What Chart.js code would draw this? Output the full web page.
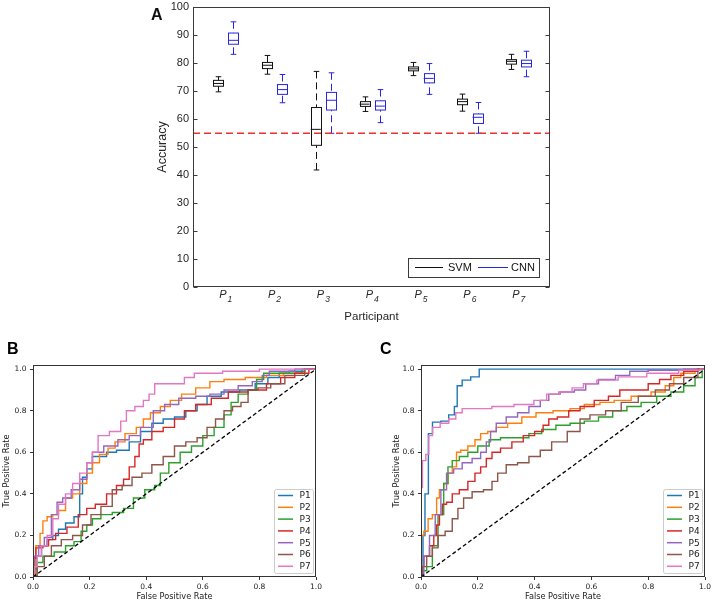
<!DOCTYPE html>
<html>
<head>
<meta charset="utf-8">
<script src="https://cdn.jsdelivr.net/npm/chart.js@4/dist/chart.umd.min.js"></script>
<style>
  body { margin: 0; background: #fff; width: 714px; height: 603px; position: relative; overflow: hidden; }
  canvas { position: absolute; }
</style>
</head>
<body>
<canvas id="cA" width="430" height="330" style="left:140px;top:0px"></canvas>
<canvas id="cB" width="357" height="273" style="left:0px;top:330px"></canvas>
<canvas id="cC" width="357" height="273" style="left:357px;top:330px"></canvas>
<script>
// ---- panel A: accuracy box plots ----
const participants = ["P1", "P2", "P3", "P4", "P5", "P6", "P7"];
const svmMin = [69.7, 76.0, 41.8, 62.7, 75.5, 62.8, 77.7];
const svmQ1 = [71.7, 78.0, 50.6, 64.5, 77.2, 65.1, 79.6];
const svmMed = [72.7, 79.2, 56.3, 65.3, 77.9, 66.2, 80.6];
const svmQ3 = [73.8, 80.2, 64.1, 66.2, 78.6, 67.1, 81.2];
const svmMax = [75.1, 82.7, 77.0, 67.9, 80.2, 68.9, 83.1];
const cnnMin = [83.1, 65.8, 54.9, 58.7, 68.8, 54.9, 75.1];
const cnnQ1 = [86.7, 68.8, 63.2, 63.2, 72.9, 58.4, 78.6];
const cnnMed = [88.1, 70.5, 66.7, 64.6, 74.5, 60.6, 79.8];
const cnnQ3 = [90.7, 72.3, 69.5, 66.5, 76.2, 61.8, 81.0];
const cnnMax = [94.7, 75.9, 76.5, 70.5, 79.8, 65.9, 84.2];
const chanceLevel = 54.9;
const accTicks = [0, 10, 20, 30, 40, 50, 60, 70, 80, 90, 100];

// ---- panels B and C: ROC curves [fpr, tpr] ----
const bP1 = [[0,0],[0.02,0.1],[0.04,0.15],[0.06,0.18],[0.08,0.2],[0.1,0.23],[0.13,0.26],[0.16,0.29],[0.17,0.4],[0.18,0.48],[0.2,0.52],[0.22,0.58],[0.25,0.58],[0.27,0.6],[0.32,0.61],[0.36,0.65],[0.4,0.7],[0.44,0.74],[0.48,0.76],[0.52,0.77],[0.56,0.8],[0.6,0.83],[0.63,0.87],[0.7,0.89],[0.76,0.9],[0.81,0.93],[0.85,0.96],[0.89,0.98],[0.92,0.99],[1,1]];
const bP2 = [[0,0],[0.02,0.15],[0.03,0.21],[0.04,0.27],[0.06,0.29],[0.08,0.3],[0.1,0.32],[0.13,0.38],[0.15,0.4],[0.18,0.45],[0.2,0.5],[0.22,0.55],[0.25,0.59],[0.28,0.62],[0.3,0.65],[0.35,0.69],[0.38,0.72],[0.4,0.76],[0.43,0.79],[0.47,0.82],[0.5,0.85],[0.55,0.88],[0.6,0.91],[0.65,0.94],[0.7,0.95],[0.8,0.96],[0.85,0.97],[0.92,0.98],[1,1]];
const bP3 = [[0,0],[0.01,0.04],[0.02,0.07],[0.05,0.1],[0.1,0.12],[0.13,0.15],[0.16,0.17],[0.18,0.22],[0.2,0.25],[0.22,0.28],[0.26,0.3],[0.3,0.31],[0.34,0.33],[0.37,0.38],[0.42,0.42],[0.44,0.44],[0.46,0.5],[0.5,0.55],[0.54,0.6],[0.58,0.63],[0.62,0.68],[0.66,0.72],[0.69,0.78],[0.71,0.84],[0.74,0.88],[0.78,0.9],[0.8,0.95],[0.83,0.98],[0.9,0.98],[1,1]];
const bP4 = [[0,0],[0,0.09],[0.02,0.14],[0.05,0.15],[0.06,0.18],[0.1,0.21],[0.14,0.24],[0.18,0.3],[0.2,0.33],[0.24,0.35],[0.28,0.4],[0.31,0.44],[0.33,0.47],[0.35,0.53],[0.37,0.58],[0.38,0.64],[0.4,0.66],[0.44,0.7],[0.48,0.72],[0.52,0.76],[0.55,0.8],[0.6,0.83],[0.66,0.86],[0.72,0.89],[0.8,0.9],[0.85,0.93],[0.9,0.96],[0.95,0.98],[1,1]];
const bP5 = [[0,0],[0.01,0.1],[0.03,0.15],[0.05,0.19],[0.08,0.3],[0.09,0.36],[0.12,0.38],[0.15,0.42],[0.18,0.47],[0.2,0.55],[0.22,0.6],[0.28,0.63],[0.32,0.66],[0.36,0.68],[0.4,0.72],[0.45,0.8],[0.48,0.83],[0.55,0.86],[0.6,0.87],[0.65,0.88],[0.7,0.9],[0.75,0.92],[0.8,0.94],[0.82,0.97],[0.85,0.99],[1,1]];
const bP6 = [[0,0],[0.03,0.05],[0.05,0.1],[0.08,0.15],[0.12,0.18],[0.16,0.2],[0.19,0.25],[0.22,0.3],[0.26,0.34],[0.3,0.42],[0.33,0.44],[0.37,0.48],[0.4,0.5],[0.44,0.54],[0.48,0.58],[0.52,0.63],[0.56,0.65],[0.6,0.67],[0.63,0.72],[0.66,0.76],[0.69,0.8],[0.72,0.82],[0.75,0.84],[0.77,0.9],[0.82,0.91],[0.86,0.93],[0.92,0.97],[1,1]];
const bP7 = [[0,0],[0.01,0.05],[0.02,0.1],[0.04,0.15],[0.06,0.2],[0.08,0.28],[0.1,0.35],[0.13,0.4],[0.15,0.45],[0.18,0.5],[0.2,0.55],[0.22,0.6],[0.24,0.68],[0.3,0.7],[0.32,0.75],[0.34,0.8],[0.38,0.82],[0.4,0.85],[0.42,0.88],[0.44,0.93],[0.52,0.93],[0.55,0.96],[0.59,0.98],[0.75,0.99],[0.85,1],[1,1]];

const cP1 = [[0,0],[0.014,0.2],[0.014,0.4],[0.026,0.4],[0.026,0.69],[0.055,0.745],[0.085,0.75],[0.11,0.78],[0.125,0.82],[0.13,0.92],[0.16,0.947],[0.19,0.963],[0.22,1],[1,1]];
const cP2 = [[0,0],[0,0.2],[0.02,0.22],[0.03,0.28],[0.05,0.3],[0.06,0.38],[0.07,0.42],[0.09,0.45],[0.1,0.5],[0.12,0.53],[0.13,0.6],[0.15,0.61],[0.18,0.63],[0.2,0.66],[0.22,0.69],[0.25,0.7],[0.28,0.72],[0.33,0.74],[0.38,0.77],[0.43,0.79],[0.5,0.8],[0.55,0.81],[0.6,0.83],[0.66,0.84],[0.7,0.85],[0.78,0.87],[0.84,0.89],[0.88,0.92],[0.9,0.96],[0.93,0.98],[1,1]];
const cP3 = [[0,0],[0.01,0.03],[0.03,0.05],[0.05,0.15],[0.07,0.3],[0.09,0.45],[0.1,0.53],[0.12,0.56],[0.15,0.58],[0.18,0.6],[0.22,0.63],[0.26,0.66],[0.3,0.67],[0.36,0.67],[0.4,0.69],[0.45,0.71],[0.5,0.73],[0.55,0.74],[0.6,0.75],[0.65,0.77],[0.7,0.8],[0.75,0.82],[0.8,0.84],[0.86,0.87],[0.9,0.89],[0.95,0.92],[0.98,0.96],[1,1]];
const cP4 = [[0,0],[0,0.05],[0.02,0.1],[0.04,0.15],[0.05,0.2],[0.06,0.25],[0.07,0.3],[0.08,0.35],[0.1,0.36],[0.12,0.4],[0.15,0.42],[0.18,0.46],[0.2,0.5],[0.22,0.53],[0.24,0.57],[0.26,0.6],[0.3,0.62],[0.34,0.65],[0.38,0.68],[0.42,0.7],[0.44,0.73],[0.46,0.76],[0.5,0.77],[0.54,0.8],[0.58,0.82],[0.64,0.85],[0.68,0.87],[0.72,0.9],[0.78,0.9],[0.82,0.93],[0.86,0.95],[0.9,0.97],[0.95,0.99],[1,1]];
const cP5 = [[0,0],[0.02,0.1],[0.04,0.2],[0.06,0.3],[0.08,0.42],[0.1,0.5],[0.13,0.52],[0.16,0.55],[0.2,0.57],[0.22,0.6],[0.24,0.65],[0.25,0.7],[0.28,0.74],[0.32,0.77],[0.36,0.79],[0.4,0.82],[0.44,0.85],[0.46,0.88],[0.52,0.89],[0.56,0.9],[0.6,0.93],[0.65,0.95],[0.72,0.97],[0.75,0.99],[0.85,0.995],[1,1]];
const cP6 = [[0,0],[0.01,0.05],[0.03,0.1],[0.05,0.14],[0.07,0.2],[0.1,0.22],[0.12,0.28],[0.14,0.33],[0.16,0.38],[0.2,0.41],[0.24,0.42],[0.26,0.46],[0.28,0.5],[0.32,0.54],[0.36,0.55],[0.4,0.58],[0.44,0.61],[0.48,0.65],[0.55,0.7],[0.57,0.76],[0.62,0.78],[0.68,0.8],[0.73,0.84],[0.8,0.87],[0.85,0.9],[0.9,0.93],[0.95,0.96],[1,1]];
const cP7 = [[0,0],[0,0.43],[0.01,0.56],[0.024,0.59],[0.031,0.68],[0.05,0.72],[0.085,0.74],[0.11,0.76],[0.135,0.79],[0.155,0.81],[0.214,0.81],[0.285,0.82],[0.37,0.83],[0.425,0.85],[0.46,0.88],[0.51,0.89],[0.554,0.91],[0.59,0.93],[0.648,0.947],[0.74,0.963],[0.85,0.98],[0.965,0.995],[1,1]];

const rocColors = ["#1f77b4", "#ff7f0e", "#2ca02c", "#d62728", "#9467bd", "#8c564b", "#e377c2"];
const rateTicks = [0, 0.2, 0.4, 0.6, 0.8, 1.0];

const svmColor = "#111111";
const cnnColor = "#2626e0";
const boxOffset = 0.156;

// boxes + whiskers drawn through the chart's scales
const boxPlugin = {
  id: "boxes",
  beforeDatasetsDraw(chart) {
    const { ctx, scales: { x, y } } = chart;
    const groups = [
      { off: -boxOffset, color: svmColor, lo: svmMin, q1: svmQ1, q3: svmQ3, hi: svmMax },
      { off: boxOffset, color: cnnColor, lo: cnnMin, q1: cnnQ1, q3: cnnQ3, hi: cnnMax },
    ];
    ctx.save();
    ctx.lineWidth = 1;
    groups.forEach((g) => {
      g.lo.forEach((_, i) => {
        const cx = Math.round(x.getPixelForValue(i + 1 + g.off)) + 0.5;
        const yLo = y.getPixelForValue(g.lo[i]);
        const yQ1 = y.getPixelForValue(g.q1[i]);
        const yQ3 = y.getPixelForValue(g.q3[i]);
        const yHi = y.getPixelForValue(g.hi[i]);
        ctx.strokeStyle = g.color;
        ctx.setLineDash([]);
        ctx.strokeRect(cx - 5, yQ3, 10, yQ1 - yQ3);
        ctx.beginPath();
        ctx.moveTo(cx - 2.8, yLo); ctx.lineTo(cx + 2.8, yLo);
        ctx.moveTo(cx - 2.8, yHi); ctx.lineTo(cx + 2.8, yHi);
        ctx.stroke();
        ctx.setLineDash([7, 4]);
        ctx.beginPath();
        ctx.moveTo(cx, yHi); ctx.lineTo(cx, yQ3);
        ctx.moveTo(cx, yLo); ctx.lineTo(cx, yQ1);
        ctx.stroke();
      });
    });
    ctx.restore();
  },
  afterDraw(chart) {
    const { ctx, chartArea: a, scales: { x, y } } = chart;
    ctx.save();
    // frame and inward ticks
    ctx.strokeStyle = "#3a3a3a";
    ctx.lineWidth = 1;
    const L = Math.round(a.left) + 0.5, R = Math.round(a.right) - 0.5;
    const T = Math.round(a.top) + 0.5, B = Math.round(a.bottom) - 0.5;
    ctx.strokeRect(L, T, R - L, B - T);
    ctx.beginPath();
    accTicks.forEach((v) => {
      const py = Math.round(y.getPixelForValue(v)) + 0.5;
      ctx.moveTo(L, py); ctx.lineTo(L + 4, py);
      ctx.moveTo(R, py); ctx.lineTo(R - 4, py);
    });
    ctx.stroke();
    // participant labels with subscripts
    ctx.fillStyle = "#262626";
    ctx.textBaseline = "alphabetic";
    ctx.textAlign = "left";
    participants.forEach((p, i) => {
      const cx = x.getPixelForValue(i + 1);
      ctx.font = "italic 11px 'Liberation Sans', Arial, sans-serif";
      const wP = ctx.measureText(p[0]).width;
      ctx.font = "italic 8.5px 'Liberation Sans', Arial, sans-serif";
      const wS = ctx.measureText(p.slice(1)).width;
      const sx = cx - (wP + wS + 1) / 2;
      ctx.font = "italic 11px 'Liberation Sans', Arial, sans-serif";
      ctx.fillText(p[0], sx, 297.5);
      ctx.font = "italic 8.5px 'Liberation Sans', Arial, sans-serif";
      ctx.fillText(p.slice(1), sx + wP + 1, 301.5);
    });
    // legend
    ctx.fillStyle = "#fff";
    ctx.fillRect(268, 258, 131, 19);
    ctx.strokeStyle = "#3a3a3a";
    ctx.strokeRect(268.5, 258.5, 131, 19);
    ctx.lineWidth = 1;
    ctx.strokeStyle = svmColor;
    ctx.beginPath(); ctx.moveTo(275, 267.5); ctx.lineTo(303, 267.5); ctx.stroke();
    ctx.strokeStyle = cnnColor;
    ctx.beginPath(); ctx.moveTo(338, 267.5); ctx.lineTo(368, 267.5); ctx.stroke();
    ctx.fillStyle = "#111";
    ctx.font = "11px 'Liberation Sans', Arial, sans-serif";
    ctx.textBaseline = "middle";
    ctx.fillText("SVM", 308, 268);
    ctx.fillText("CNN", 371, 268);
    // panel letter
    ctx.font = "bold 16px 'Liberation Sans', Arial, sans-serif";
    ctx.textBaseline = "alphabetic";
    ctx.fillText("A", 11, 20);
    ctx.restore();
  },
};

new Chart(document.getElementById("cA"), {
  type: "scatter",
  data: {
    datasets: [
      {
        label: "SVM",
        data: svmMed.map((v, i) => ({ x: i + 1 - boxOffset, y: v })),
        pointStyle: "line", pointRadius: 5, pointBorderWidth: 1,
        borderColor: svmColor, showLine: false,
      },
      {
        label: "CNN",
        data: cnnMed.map((v, i) => ({ x: i + 1 + boxOffset, y: v })),
        pointStyle: "line", pointRadius: 5, pointBorderWidth: 1,
        borderColor: cnnColor, showLine: false,
      },
      {
        label: "chance",
        data: [{ x: 0.33, y: chanceLevel }, { x: 7.64, y: chanceLevel }],
        showLine: true, pointRadius: 0, borderColor: "#ee2f2f",
        borderWidth: 1.4, borderDash: [7, 4],
      },
    ],
  },
  options: {
    responsive: false,
    animation: false,
    events: [],
    layout: { padding: { left: 0, right: 20, top: 7, bottom: 0 } },
    plugins: { legend: { display: false }, tooltip: { enabled: false } },
    scales: {
      x: {
        type: "linear", min: 0.33, max: 7.64,
        afterBuildTicks: (s) => { s.ticks = participants.map((_, i) => ({ value: i + 1 })); },
        ticks: { display: false },
        grid: { display: false },
        border: { display: false },
        title: {
          display: true, text: "Participant", color: "#262626",
          font: { family: "'Liberation Sans', Arial, sans-serif", size: 11.5 },
          padding: { top: 0, bottom: 6 },
        },
        afterFit: (s) => { s.height = 43; s.paddingLeft = 0; s.paddingRight = 0; },
      },
      y: {
        min: 0, max: 100,
        afterBuildTicks: (s) => { s.ticks = accTicks.map((v) => ({ value: v })); },
        ticks: { color: "#262626", padding: 4, font: { family: "'Liberation Sans', Arial, sans-serif", size: 11 } },
        grid: { display: false, drawTicks: false },
        border: { display: false },
        title: {
          display: true, text: "Accuracy", color: "#262626",
          font: { family: "'Liberation Sans', Arial, sans-serif", size: 12.5 },
          padding: { top: 15, bottom: 0 },
        },
        afterFit: (s) => { s.width = 53; s.paddingTop = 0; s.paddingBottom = 0; },
      },
    },
  },
  plugins: [boxPlugin],
});

// ROC panels
function rocPlugin(letter, letterX) {
  return {
    id: "roc" + letter,
    afterDatasetsDraw(chart) {
      const { ctx, chartArea: a } = chart;
      ctx.save();
      ctx.strokeStyle = "#333";
      ctx.lineWidth = 1;
      const L = Math.round(a.left) + 0.5, R = Math.round(a.right) - 0.5;
      const T = Math.round(a.top) + 0.5, B = Math.round(a.bottom) - 0.5;
      ctx.strokeRect(L, T, R - L, B - T);
      // legend
      const bw = 39, bh = 84;
      const bx = a.right - 3.5 - bw, by = a.bottom - 4 - bh;
      ctx.fillStyle = "rgba(255,255,255,0.85)";
      ctx.strokeStyle = "#cccccc";
      ctx.beginPath();
      ctx.roundRect(Math.round(bx) + 0.5, Math.round(by) + 0.5, bw, bh, 2);
      ctx.fill(); ctx.stroke();
      ctx.font = "9px 'DejaVu Sans', sans-serif";
      ctx.textBaseline = "middle";
      ctx.textAlign = "left";
      participants.forEach((p, i) => {
        const ry = by + 6.5 + i * 11.8;
        ctx.strokeStyle = rocColors[i];
        ctx.lineWidth = 1.5;
        ctx.beginPath(); ctx.moveTo(bx + 4.5, ry); ctx.lineTo(bx + 19.5, ry); ctx.stroke();
        ctx.fillStyle = "#222";
        ctx.fillText(p, bx + 26, ry + 0.5);
      });
      ctx.fillStyle = "#000";
      ctx.font = "bold 16px 'Liberation Sans', Arial, sans-serif";
      ctx.textBaseline = "alphabetic";
      ctx.fillText(letter, letterX, 23.5);
      ctx.restore();
    },
  };
}

function makeRoc(id, curves, yWidth, yTitlePad, rightPad, letter, letterX) {
  const datasets = [
    {
      data: [{ x: 0, y: 0 }, { x: 1, y: 1 }],
      borderColor: "#000", borderWidth: 1.3, borderDash: [4, 2.5],
      pointRadius: 0, showLine: true, order: 0,
    },
  ];
  curves.forEach((c, i) => {
    datasets.push({
      label: participants[i],
      data: c.map((pt) => ({ x: pt[0], y: pt[1] })),
      borderColor: rocColors[i], borderWidth: 1.4,
      pointRadius: 0, showLine: true, stepped: "middle", order: 7 - i,
    });
  });
  const tickFont = { family: "'DejaVu Sans', sans-serif", size: 7.5 };
  const titleFont = { family: "'DejaVu Sans', sans-serif", size: 8.2 };
  new Chart(document.getElementById(id), {
    type: "scatter",
    data: { datasets },
    options: {
      responsive: false,
      animation: false,
      events: [],
      layout: { padding: { left: 0, right: rightPad, top: 35, bottom: 0 } },
      plugins: { legend: { display: false }, tooltip: { enabled: false } },
      scales: {
        x: {
          min: 0, max: 1,
          afterBuildTicks: (s) => { s.ticks = rateTicks.map((v) => ({ value: v })); },
          ticks: { color: "#222", padding: 3, maxRotation: 0, font: tickFont, callback: (v) => v.toFixed(1) },
          grid: { drawOnChartArea: false, tickLength: 3, tickColor: "#333" },
          border: { display: false },
          title: { display: true, text: "False Positive Rate", color: "#222", font: titleFont, padding: { top: 0, bottom: 1 } },
          afterFit: (s) => { s.height = 26; },
        },
        y: {
          min: 0, max: 1.02,
          afterBuildTicks: (s) => { s.ticks = rateTicks.map((v) => ({ value: v })); },
          ticks: { color: "#222", padding: 3.5, font: tickFont, callback: (v) => v.toFixed(1) },
          grid: { drawOnChartArea: false, tickLength: 3, tickColor: "#333" },
          border: { display: false },
          title: { display: true, text: "True Positive Rate", color: "#222", font: titleFont, padding: { top: yTitlePad, bottom: 0 } },
          afterFit: (s) => { s.width = yWidth; },
        },
      },
    },
    plugins: [rocPlugin(letter, letterX)],
  });
}

makeRoc("cB", [bP1, bP2, bP3, bP4, bP5, bP6, bP7], 33, 2, 41, "B", 7);
makeRoc("cC", [cP1, cP2, cP3, cP4, cP5, cP6, cP7], 64, 35, 9, "C", 23);
</script>
</body>
</html>
